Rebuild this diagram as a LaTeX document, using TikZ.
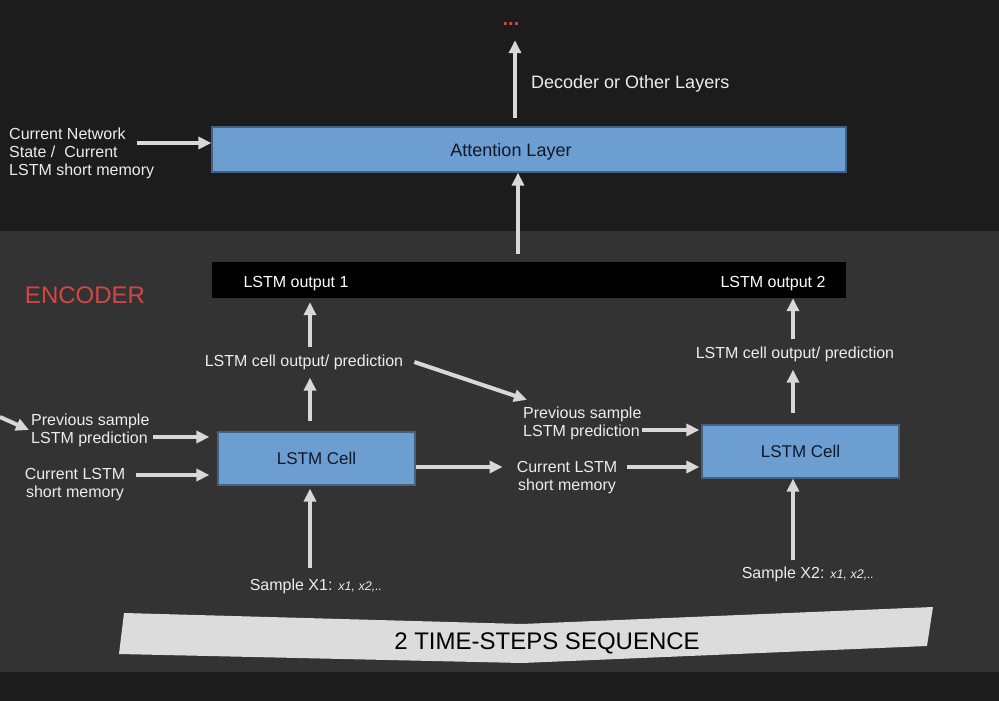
\documentclass[tikz,border=0pt]{standalone}
\usepackage{fontspec}
\setmainfont{Liberation Sans}
\usetikzlibrary{arrows.meta}

\definecolor{bgtop}{HTML}{1C1C1C}
\definecolor{bgmid}{HTML}{333333}
\definecolor{arrowgrey}{HTML}{D8D8D8}
\definecolor{boxblue}{HTML}{6D9ED2}
\definecolor{boxedge}{HTML}{44617F}
\definecolor{encred}{HTML}{D64545}
\definecolor{lighttext}{HTML}{EDEDED}
\definecolor{celltext}{HTML}{101828}
\definecolor{bannergrey}{HTML}{DCDCDC}

\tikzset{
	arr/.style={draw=arrowgrey, line width=4pt, -{Triangle[length=13pt,width=12pt]}},
	lbl/.style={text=lighttext, inner sep=0pt, font=\fontsize{16}{18}\selectfont},
	bluebox/.style={draw=boxedge, line width=1.2pt, fill=boxblue, inner sep=0pt, text=celltext, font=\fontsize{17}{20}\selectfont},
}

\begin{document}
\begin{tikzpicture}[x=1pt, y=-1pt]
		\fill[bgtop] (0,0) rectangle (999,701);
		\fill[bgmid] (0,231) rectangle (999,672);
		\useasboundingbox (0,0) rectangle (999,701);

		\node[bluebox, minimum width=634pt, minimum height=45pt] (att) at (529,149.5) {};
		\node[inner sep=0pt, text=celltext, font=\fontsize{18}{20}\selectfont] (attlbl) at (511,152) {Attention Layer};
		\node[lbl, text=encred, anchor=base, font=\bfseries\fontsize{20}{22}\selectfont] (dots) at (511,26) {...};
		\node[lbl, font=\fontsize{18}{20}\selectfont, anchor=west] (dec) at (531,84) {Decoder or Other Layers};
		\node[lbl, align=left, anchor=west] (netstate) at (9,153) {Current Network\\State /\ \ Current\\LSTM short memory};

		\node[fill=black, minimum width=634pt, minimum height=36pt, inner sep=0pt] (outs) at (529,280) {};
		\node[lbl, text=white] (out1) at (296,284) {LSTM output 1};
		\node[lbl, text=white] (out2) at (773,284) {LSTM output 2};
		\node[lbl, text=encred, font=\fontsize{24}{28}\selectfont] (enc) at (85,295) {ENCODER};

		\node[bluebox, minimum width=197pt, minimum height=53pt] (cell1) at (316.5,458.5) {LSTM Cell};
		\node[bluebox, minimum width=197pt, minimum height=53pt] (cell2) at (800.5,451.5) {LSTM Cell};
		\node[lbl] (pred1) at (304,362) {LSTM cell output/ prediction};
		\node[lbl] (pred2) at (795,354) {LSTM cell output/ prediction};
		\node[lbl, align=left, anchor=west] (prev1) at (31,430) {Previous sample\\LSTM prediction};
		\node[lbl, align=left, anchor=west] (prev2) at (523,423) {Previous sample\\LSTM prediction};
		\node[lbl, align=center] (mem1) at (75,485) {Current LSTM\\short memory};
		\node[lbl, align=center] (mem2) at (567,478) {Current LSTM\\short memory};
		\node[lbl] (x1) at (316,586) {Sample X1: {\itshape\fontsize{12.5}{14}\selectfont x1, x2,..}};
		\node[lbl] (x2) at (808,574) {Sample X2: {\itshape\fontsize{12.5}{14}\selectfont x1, x2,..}};

		\fill[bannergrey] (124,613) -- (522,624) -- (933,607) -- (927,646) -- (522,663) -- (119,654) -- cycle;
		\node[inner sep=0pt, text=black, font=\fontsize{24}{28}\selectfont] (seq) at (547,643) {2 TIME-STEPS SEQUENCE};

		\coordinate (netin) at (137,143);
		\coordinate (declane) at (515,0);
		\coordinate (attlane) at (518,0);
		\coordinate (lane1) at (310,0);
		\coordinate (lane2) at (793,0);
		\coordinate (prevtail) at (0,417);
		\coordinate (predrow1) at (0,437);
		\coordinate (predrow2) at (0,430);
		\coordinate (memrow1) at (0,475);
		\coordinate (memrow) at (0,467);

		\draw[arr, shorten <=8pt, shorten >=14pt] (att.north -| declane) -- (dots.south -| declane);
		\draw[arr] (netin) -- (netin -| att.west);
		\draw[arr, shorten <=8pt] (outs.north -| attlane) -- (att.south -| attlane);

		\draw[arr, shorten <=10pt, shorten >=8pt] (cell1.north -| lane1) -- (pred1.south -| lane1);
		\draw[arr, shorten <=7pt, shorten >=4pt] (pred1.north -| lane1) -- (outs.south -| lane1);
		\draw[arr, shorten <=11pt, shorten >=8pt] (cell2.north -| lane2) -- (pred2.south -| lane2);
		\draw[arr, shorten <=7pt] (pred2.north -| lane2) -- (outs.south -| lane2);
		\draw[arr] ([xshift=11pt]pred1.east) -- ([shift={(4pt,6.5pt)}]prev2.north west);

		\draw[arr] (prevtail) -- ([xshift=-2pt]prev1.west);
		\draw[arr, shorten <=3pt, shorten >=8pt] (prev1.east |- predrow1) -- (cell1.west |- predrow1);
		\draw[arr, shorten <=11pt, shorten >=8pt] (mem1.east |- memrow1) -- (cell1.west |- memrow1);
		\draw[arr, shorten >=14pt] (cell1.east |- memrow) -- (mem2.west |- memrow);
		\draw[arr, shorten <=10pt, shorten >=2pt] (mem2.east |- memrow) -- (cell2.west |- memrow);
		\draw[arr, shorten >=2pt] (prev2.east |- predrow2) -- (cell2.west |- predrow2);

		\draw[arr, shorten <=10pt, shorten >=3pt] (x1.north -| lane1) -- (cell1.south -| lane1);
		\draw[arr, shorten <=6pt] (x2.north -| lane2) -- (cell2.south -| lane2);
\end{tikzpicture}
\end{document}
